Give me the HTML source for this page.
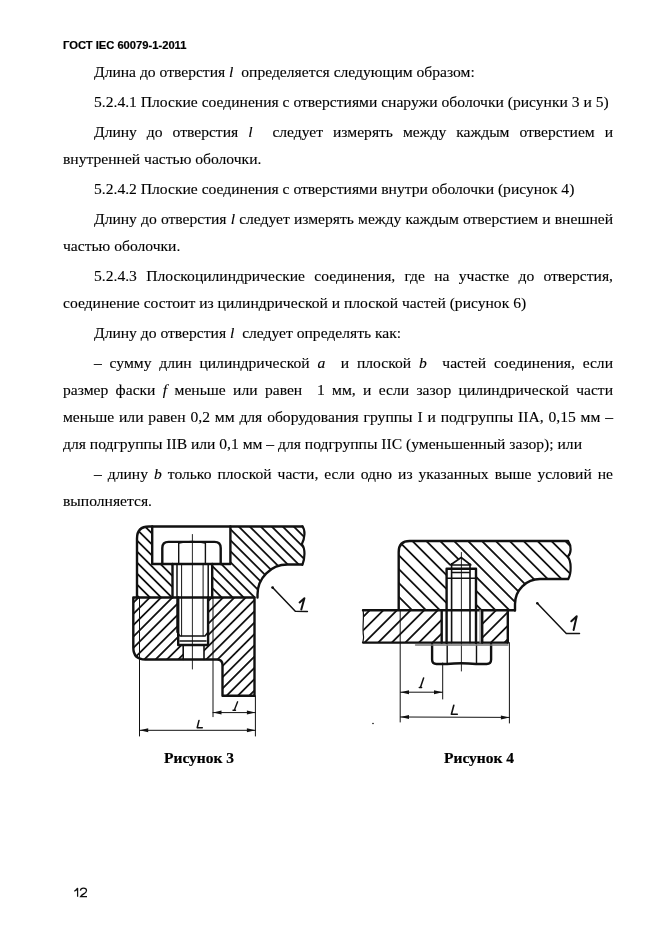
<!DOCTYPE html>
<html><head><meta charset="utf-8">
<style>
html,body{margin:0;padding:0;background:#fff;}
body{width:661px;height:936px;position:relative;overflow:hidden;}
.hd{will-change:transform;position:absolute;left:62.5px;top:39px;font:bold 11.2px "Liberation Sans",sans-serif;color:#000;-webkit-text-stroke:0.2px #000;white-space:pre;}
.pn{will-change:transform;position:absolute;left:73px;top:885.5px;font:12.6px "Liberation Sans",sans-serif;color:#111;white-space:pre;}
.l{will-change:transform;position:absolute;font:15.6px "Liberation Serif",serif;color:#000;-webkit-text-stroke:0.12px #000;white-space:pre;line-height:20px;height:20px;}
.j{width:550px;left:63px;text-align:justify;text-align-last:justify;white-space:normal;}
.ji{width:519px;left:94px;text-align:justify;text-align-last:justify;white-space:normal;}
.i{left:94px;}
.f{left:63px;}
.cap{will-change:transform;position:absolute;font:bold 15.5px "Liberation Serif",serif;color:#000;-webkit-text-stroke:0.2px #000;white-space:pre;line-height:20px;}
svg{position:absolute;left:0;top:0;}
</style></head><body>
<div class="hd">ГОСТ IEC 60079-1-2011</div>
<div class="l i" style="top:62px">Длина до отверстия <i>l</i>  определяется следующим образом:</div>
<div class="l i" style="top:92px">5.2.4.1 Плоские соединения с отверстиями снаружи оболочки (рисунки 3 и 5)</div>
<div class="l ji" style="top:122px">Длину до отверстия <i>l</i> &nbsp;следует измерять между каждым отверстием и</div>
<div class="l f" style="top:149px">внутренней частью оболочки.</div>
<div class="l i" style="top:179px">5.2.4.2 Плоские соединения с отверстиями внутри оболочки (рисунок 4)</div>
<div class="l ji" style="top:209px">Длину до отверстия <i>l</i> следует измерять между каждым отверстием и внешней</div>
<div class="l f" style="top:236px">частью оболочки.</div>
<div class="l ji" style="top:266px">5.2.4.3 Плоскоцилиндрические соединения, где на участке до отверстия,</div>
<div class="l f" style="top:293px">соединение состоит из цилиндрической и плоской частей (рисунок 6)</div>
<div class="l i" style="top:323px">Длину до отверстия <i>l</i>  следует определять как:</div>
<div class="l ji" style="top:353px">– сумму длин цилиндрической <i>a</i> &nbsp;и плоской <i>b</i> &nbsp;частей соединения, если</div>
<div class="l j" style="top:380px">размер фаски <i>f</i> меньше или равен &nbsp;1 мм, и если зазор цилиндрической части</div>
<div class="l j" style="top:407px">меньше или равен 0,2 мм для оборудования группы I и подгруппы IIA, 0,15 мм –</div>
<div class="l f" style="top:434px">для подгруппы IIВ или 0,1 мм – для подгруппы IIС (уменьшенный зазор); или</div>
<div class="l ji" style="top:464px">– длину <i>b</i> только плоской части, если одно из указанных выше условий не</div>
<div class="l f" style="top:491px">выполняется.</div>
<div class="cap" style="left:163.5px;top:747.5px">Рисунок 3</div>
<div class="cap" style="left:444.3px;top:747.5px">Рисунок 4</div>

<!--SVG--><svg width="661" height="936" viewBox="0 0 661 936">
<defs>
<clipPath id="c1"><path clip-rule="evenodd" d="M137,597.5L137,538.5Q137,526.5 149,526.5L302.4,526.5C305.5,530 305,538 301.8,544.2C305.5,549 305,558 302.4,564.5L287.5,564.5A30,30 0 0 0 257.5,594.5L257.5,597.5ZM152.2,526.5L230.4,526.5L230.4,564L212.2,564L212.2,597.5L172.5,597.5L172.5,564L152.2,564Z"/></clipPath>
<clipPath id="c2"><path clip-rule="evenodd" d="M133.3,597.5L254.5,597.5L254.5,695.8L222.5,695.8L222.5,665Q222.5,659.5 217,659.5L145.3,659.5Q133.3,659.5 133.3,647.5ZM178.2,597.5L208.1,597.5L208.1,645L204,645L204,659.5L183.2,659.5L183.2,645L178.2,645Z"/></clipPath>
<clipPath id="c3"><path clip-rule="evenodd" d="M398.7,609.5L398.7,552Q398.7,541 409.7,541L568.3,541C571.5,546 571.5,553 567.7,556.8C571.5,561 571.5,573 568.3,579L540,579A25,25 0 0 0 515,604L515,610.5ZM446.6,609.5L446.6,568.7L450.4,564.6L461.2,557.5L470.8,564.6L476,568.7L476,609.5Z"/></clipPath>
<clipPath id="c4"><path clip-rule="evenodd" d="M363,610.2L507.8,610.2L507.8,642.6L363,642.6C364.5,635 362,628 363.5,620C364,615 362.5,612 363,610.2ZM441.7,610.2L482.2,610.2L482.2,642.6L441.7,642.6Z"/></clipPath>
<clipPath id="rl3"><rect x="100" y="500" width="92.5" height="220"/></clipPath><clipPath id="rr3"><rect x="192.5" y="500" width="150" height="220"/></clipPath><clipPath id="rl4"><rect x="340" y="500" width="121" height="220"/></clipPath><clipPath id="rr4"><rect x="461" y="500" width="150" height="220"/></clipPath>
</defs>
<g stroke="#111" fill="none" stroke-linecap="round" stroke-linejoin="round">
<g clip-path="url(#c1)"><path clip-path="url(#rl3)" stroke-width="1.8" d="M39.50,520L119.50,600M50.50,520L130.50,600M61.50,520L141.50,600M72.50,520L152.50,600M83.50,520L163.50,600M94.50,520L174.50,600M105.50,520L185.50,600M116.50,520L196.50,600M127.50,520L207.50,600M138.50,520L218.50,600M149.50,520L229.50,600M160.50,520L240.50,600M171.50,520L251.50,600M182.50,520L262.50,600M193.50,520L273.50,600M204.50,520L284.50,600"/><path clip-path="url(#rr3)" stroke-width="1.8" d="M100.20,520L180.20,600M111.20,520L191.20,600M122.20,520L202.20,600M133.20,520L213.20,600M144.20,520L224.20,600M155.20,520L235.20,600M166.20,520L246.20,600M177.20,520L257.20,600M188.20,520L268.20,600M199.20,520L279.20,600M210.20,520L290.20,600M221.20,520L301.20,600M232.20,520L312.20,600M243.20,520L323.20,600M254.20,520L334.20,600M265.20,520L345.20,600M276.20,520L356.20,600M287.20,520L367.20,600M298.20,520L378.20,600M309.20,520L389.20,600M320.20,520L400.20,600"/></g>
<g clip-path="url(#c2)"><path clip-path="url(#rl3)" stroke-width="1.8" d="M129.70,595L24.70,700M141.00,595L36.00,700M152.30,595L47.30,700M163.60,595L58.60,700M174.90,595L69.90,700M186.20,595L81.20,700M197.50,595L92.50,700M208.80,595L103.80,700M220.10,595L115.10,700M231.40,595L126.40,700M242.70,595L137.70,700M254.00,595L149.00,700M265.30,595L160.30,700M276.60,595L171.60,700M287.90,595L182.90,700M299.20,595L194.20,700M310.50,595L205.50,700"/><path clip-path="url(#rr3)" stroke-width="1.8" d="M180.40,595L75.40,700M191.70,595L86.70,700M203.00,595L98.00,700M214.30,595L109.30,700M225.60,595L120.60,700M236.90,595L131.90,700M248.20,595L143.20,700M259.50,595L154.50,700M270.80,595L165.80,700M282.10,595L177.10,700M293.40,595L188.40,700M304.70,595L199.70,700M316.00,595L211.00,700M327.30,595L222.30,700M338.60,595L233.60,700M349.90,595L244.90,700M361.20,595L256.20,700M372.50,595L267.50,700"/></g>
<path clip-path="url(#c3)" stroke-width="1.8" d="M309.10,535L386.10,612M323.00,535L400.00,612M336.90,535L413.90,612M350.80,535L427.80,612M364.70,535L441.70,612M378.60,535L455.60,612M392.50,535L469.50,612M406.40,535L483.40,612M420.30,535L497.30,612M434.20,535L511.20,612M448.10,535L525.10,612M462.00,535L539.00,612M475.90,535L552.90,612M489.80,535L566.80,612M503.70,535L580.70,612M517.60,535L594.60,612M531.50,535L608.50,612M545.40,535L622.40,612M559.30,535L636.30,612M573.20,535L650.20,612M587.10,535L664.10,612"/>
<g clip-path="url(#c4)"><path clip-path="url(#rl4)" stroke-width="1.8" d="M358.40,608L321.40,645M372.00,608L335.00,645M385.60,608L348.60,645M399.20,608L362.20,645M412.80,608L375.80,645M426.40,608L389.40,645M440.00,608L403.00,645M453.60,608L416.60,645M467.20,608L430.20,645M480.80,608L443.80,645M494.40,608L457.40,645M508.00,608L471.00,645"/><path clip-path="url(#rr4)" stroke-width="1.8" d="M443.90,608L406.90,645M457.50,608L420.50,645M471.10,608L434.10,645M484.70,608L447.70,645M498.30,608L461.30,645M511.90,608L474.90,645M525.50,608L488.50,645M539.10,608L502.10,645M552.70,608L515.70,645"/></g>
<path stroke-width="2.4" d="M137,597.5L137,538.5Q137,526.5 149,526.5L302.5,526.5"/>
<path stroke-width="2.2" d="M302.4,526.4C305.5,530 305,538 301.8,544.2C305.5,549 305,558 302.4,564.8"/>
<path stroke-width="2.4" d="M302,564.5L287.5,564.5A30,30 0 0 0 257.5,594.5L257.5,597.5"/>
<path stroke-width="2.4" d="M133.3,597.5L254.5,597.5L254.5,695.8L222.5,695.8L222.5,665Q222.5,659.5 217,659.5L145.3,659.5Q133.3,659.5 133.3,647.5Z"/>
<path stroke-width="2.4" d="M152.2,526.5L152.2,564L230.4,564L230.4,526.5"/>
<path stroke-width="2.4" d="M162.3,564L162.3,548Q162.3,541.9 168.5,541.9L214.5,541.9Q220.7,541.9 220.7,548L220.7,564"/>
<path stroke-width="1.4" d="M178.7,543L178.7,564M205.4,543L205.4,564M179,543Q192,540 205,543"/>
<path stroke-width="2.4" d="M172.5,564L172.5,597.5M212.2,564L212.2,597.5M178.2,597.5L178.2,645M208.1,597.5L208.1,645M178.2,645L208.1,645"/>
<path stroke-width="1.6" d="M183.2,645L183.2,659.5M204,645L204,659.5"/>
<path stroke-width="1.5" d="M177,564L177,632L180,636L205,636L208.2,632L208.2,564M180,641L206,641"/>
<path stroke-width="1" d="M181.6,564L181.6,636M203.1,564L203.1,636"/>
<path stroke-width="0.9" d="M192.4,534.5L192.4,669"/>
<path stroke-width="1" d="M139.5,597.5L139.5,736M213,597.5L213,716.7M255.4,695.8L255.4,736M213,712.6L255.4,712.6M139.7,730.3L255.4,730.3"/>
<path stroke="none" fill="#111" d="M213,712.6L221.5,710.6L221.5,714.6ZM255.4,712.6L246.9,710.6L246.9,714.6ZM139.7,730.3L148.2,728.3L148.2,732.3ZM255.4,730.3L246.9,728.3L246.9,732.3Z"/>
<path stroke-width="1.5" d="M272.6,587.6L295.3,611.2L307.4,611.4"/>
<path stroke-width="2.4" d="M398.7,609.5L398.7,552Q398.7,541 409.7,541L568,541"/>
<path stroke-width="2.2" d="M568.3,541.5C571.5,546 571.5,553 567.7,556.8C571.5,561 571.5,573 568.3,579"/>
<path stroke-width="2.4" d="M568,579L540,579A25,25 0 0 0 515,604L515,610.5"/>
<path stroke-width="2.4" d="M363,610.2L514.5,610.2M507.8,610.2L507.8,642.6"/>
<path stroke-width="2.2" d="M363,642.6L507.8,642.6"/>
<path stroke-width="1.2" d="M363,610.2C364.5,615 362,628 363.5,636C364,640 362.5,641 363,642.6"/>
<path stroke-width="1" d="M400.2,609.5L400.2,722M442.7,663L442.7,699M509.4,642.6L509.4,723M400.5,692.2L442.5,692.2M400.5,717L509.4,717.4"/>
<path stroke="none" fill="#111" d="M400.5,692.2L409,690.2L409,694.2ZM442.5,692.2L434,690.2L434,694.2ZM400.5,717L409,715L409,719ZM509.4,717.4L500.9,715.4L500.9,719.4Z"/>
<path stroke-width="2.4" d="M446.6,643L446.6,568.7L476,568.7L476,643M441.7,610.2L441.7,642.6M482.2,610.2L482.2,642.6"/>
<path stroke-width="1.6" d="M450.4,565L461.2,557.5L470.8,565Z M447,578.3L475,578.3M451.6,572.5L470,572.5M451.6,563.7L451.6,642.6M470,563.7L470,642.6"/>
<path stroke-width="1.3" stroke="#888" d="M480.1,610.2L480.1,642.6"/>
<path stroke-width="2.4" d="M432.1,644L432.1,659.5Q432.1,664 436.5,664L447,664Q461,662.5 476,664L486.7,664Q491.1,664 491.1,659.5L491.1,644"/>
<path stroke-width="1.4" d="M447.2,645L447.2,663.5M476.5,645L476.5,663.5"/>
<path stroke-width="0.9" d="M461.4,552.5L461.4,671"/>
<path stroke-width="1.3" stroke="#777" d="M415.5,645L508,645"/>
<path stroke-width="1.5" d="M537.3,603.2L566.3,633.4L579.5,633.6"/>
</g>
<g stroke="#111" fill="none" stroke-linecap="round" stroke-linejoin="round">
<path stroke-width="1.4" d="M237.6,701.8L234.3,710.2M233,710.2L235.5,710.2"/>
<path stroke-width="1.5" d="M199,720.4L197.2,727.8L202.3,727.8"/>
<path stroke-width="2" d="M299.6,602.4L304.4,598.2L301.3,609.6"/>
<path stroke-width="1.5" d="M423.6,678L420.4,687.4M419.3,687.4L421.6,687.4"/>
<path stroke-width="1.6" d="M453.8,705.2L451.4,714.2L457.3,714.2"/>
<path stroke-width="2" d="M571.3,621.3L576.7,616.3L573.6,630"/>
</g>
<path stroke="#111" fill="none" stroke-width="1.25" stroke-linecap="butt" stroke-linejoin="miter" d="M74.3,891.2Q76.6,890.1 77.6,888.1L77.6,896.8M80.4,890.6Q80.6,888.1 83.5,888.1Q86.5,888.1 86.5,890.5Q86.5,892 84.5,893.4Q81.3,895.4 80.6,896.5L87,896.5"/>
<circle cx="272.6" cy="587.6" r="1.4" fill="#111"/><circle cx="537.3" cy="603.2" r="1.3" fill="#111"/>
<circle cx="373" cy="723.5" r="0.8" fill="#111"/>
</svg><!--/SVG-->
</body></html>
